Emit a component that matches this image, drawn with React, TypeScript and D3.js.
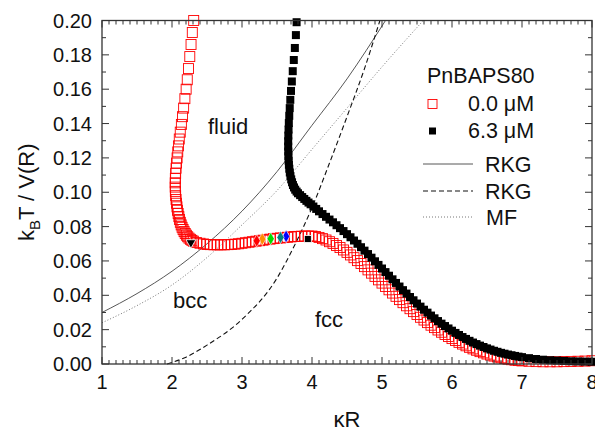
import React from 'react';
import * as d3 from 'd3';

const W = 595;
const H = 432;
const margin = { left: 102, right: 3, top: 20.5, bottom: 68 };

// PnBAPS80 0.0 uM : [kappa R, kBT / V(R)]
const series00: [number, number][] = [
  [2.31, 0.2], [2.29, 0.193], [2.272, 0.186], [2.254, 0.179], [2.236, 0.172], [2.218, 0.1655],
  [2.202, 0.16], [2.184, 0.1545], [2.166, 0.149], [2.15, 0.144], [2.134, 0.1395], [2.118, 0.135],
  [2.104, 0.131], [2.092, 0.127], [2.082, 0.1235], [2.073, 0.12], [2.065, 0.117], [2.058, 0.114],
  [2.052, 0.111], [2.048, 0.108], [2.046, 0.1055], [2.046, 0.103], [2.048, 0.1005], [2.052, 0.098],
  [2.058, 0.0958], [2.064, 0.0936], [2.071, 0.0915], [2.079, 0.0895], [2.088, 0.0876], [2.098, 0.0858],
  [2.108, 0.0841], [2.119, 0.0825], [2.131, 0.081], [2.144, 0.0796], [2.158, 0.0783], [2.173, 0.0771],
  [2.189, 0.076], [2.206, 0.075], [2.224, 0.0741], [2.243, 0.0733], [2.263, 0.0726], [2.284, 0.072],
  [2.305, 0.0715], [2.35, 0.0707], [2.4, 0.0703], [2.45, 0.0699], [2.5, 0.0696], [2.55, 0.0695],
  [2.6, 0.0694], [2.65, 0.0694], [2.7, 0.0694], [2.75, 0.0694], [2.8, 0.0695], [2.85, 0.0696],
  [2.9, 0.0698], [2.95, 0.07], [3.0, 0.0703], [3.05, 0.0706], [3.1, 0.0709], [3.15, 0.0712],
  [3.2, 0.0715], [3.25, 0.0718], [3.3, 0.0721], [3.35, 0.0724], [3.4, 0.0727], [3.45, 0.073],
  [3.5, 0.0732], [3.55, 0.0734], [3.6, 0.0736], [3.65, 0.0738], [3.7, 0.074], [3.75, 0.0742],
  [3.8, 0.0743], [3.85, 0.0744], [3.9, 0.0745], [3.95, 0.0745], [4.0, 0.0745], [4.05, 0.0742],
  [4.1, 0.0737], [4.15, 0.073], [4.2, 0.0722], [4.25, 0.0712], [4.3, 0.0702], [4.35, 0.069],
  [4.4, 0.0678], [4.45, 0.0664], [4.5, 0.065], [4.55, 0.0635], [4.6, 0.0619], [4.65, 0.0602],
  [4.7, 0.0585], [4.75, 0.0567], [4.8, 0.0548], [4.85, 0.0529], [4.9, 0.051], [4.95, 0.049],
  [5.0, 0.0471], [5.05, 0.0451], [5.1, 0.0432], [5.15, 0.0413], [5.2, 0.0394], [5.25, 0.0375],
  [5.3, 0.0357], [5.35, 0.0339], [5.4, 0.0322], [5.45, 0.0305], [5.5, 0.0288], [5.55, 0.0272],
  [5.6, 0.0256], [5.65, 0.0241], [5.7, 0.0226], [5.75, 0.0212], [5.8, 0.0198], [5.85, 0.0185],
  [5.9, 0.0172], [5.95, 0.016], [6.0, 0.0148], [6.05, 0.0137], [6.1, 0.0126], [6.15, 0.0116],
  [6.2, 0.0106], [6.25, 0.0097], [6.3, 0.0088], [6.35, 0.008], [6.4, 0.0072], [6.45, 0.0065],
  [6.5, 0.0058], [6.55, 0.0052], [6.6, 0.0046], [6.65, 0.0041], [6.7, 0.0036], [6.75, 0.0032],
  [6.8, 0.0028], [6.85, 0.0025], [6.9, 0.0022], [6.95, 0.002], [7.0, 0.0018], [7.1, 0.0016],
  [7.2, 0.0014], [7.3, 0.0013], [7.4, 0.0013], [7.5, 0.0013], [7.6, 0.0014], [7.7, 0.0015],
  [7.8, 0.0016], [7.9, 0.0017], [8.0, 0.0019],
];

// PnBAPS80 6.3 uM
const series63: [number, number][] = [
  [3.78, 0.199], [3.77, 0.1915], [3.755, 0.184], [3.74, 0.177], [3.725, 0.1705], [3.712, 0.1645],
  [3.7, 0.159], [3.69, 0.1538], [3.682, 0.149], [3.675, 0.1445], [3.669, 0.1403], [3.665, 0.1365],
  [3.662, 0.133], [3.66, 0.1297], [3.66, 0.1266], [3.661, 0.1237], [3.663, 0.121], [3.666, 0.1184],
  [3.67, 0.116], [3.676, 0.1137], [3.683, 0.1115], [3.692, 0.1094], [3.703, 0.1075], [3.715, 0.1058],
  [3.728, 0.1042], [3.743, 0.1028], [3.76, 0.1015], [3.78, 0.1004], [3.8, 0.0994], [3.83, 0.0983],
  [3.86, 0.0972], [3.89, 0.0961], [3.92, 0.095], [3.95, 0.094], [3.98, 0.093], [4.02, 0.0917],
  [4.06, 0.0903], [4.1, 0.0889], [4.15, 0.0873], [4.2, 0.0857], [4.25, 0.0841], [4.3, 0.0825],
  [4.35, 0.0808], [4.4, 0.0791], [4.45, 0.0774], [4.5, 0.0756], [4.55, 0.0738], [4.6, 0.0719],
  [4.65, 0.07], [4.7, 0.068], [4.75, 0.066], [4.8, 0.064], [4.85, 0.0619], [4.9, 0.0598],
  [4.95, 0.0577], [5.0, 0.0556], [5.05, 0.0535], [5.1, 0.0514], [5.15, 0.0493], [5.2, 0.0472],
  [5.25, 0.0451], [5.3, 0.043], [5.35, 0.041], [5.4, 0.039], [5.45, 0.0371], [5.5, 0.0352],
  [5.55, 0.0334], [5.6, 0.0316], [5.65, 0.0299], [5.7, 0.0282], [5.75, 0.0266], [5.8, 0.025],
  [5.85, 0.0235], [5.9, 0.0221], [5.95, 0.0207], [6.0, 0.0194], [6.05, 0.0181], [6.1, 0.0169],
  [6.15, 0.0157], [6.2, 0.0146], [6.25, 0.0135], [6.3, 0.0125], [6.35, 0.0116], [6.4, 0.0107],
  [6.45, 0.0099], [6.5, 0.0091], [6.55, 0.0084], [6.6, 0.0077], [6.65, 0.0071], [6.7, 0.0065],
  [6.75, 0.006], [6.8, 0.0055], [6.85, 0.0051], [6.9, 0.0047], [6.95, 0.0043], [7.0, 0.004],
  [7.1, 0.0034], [7.2, 0.0029], [7.3, 0.0025], [7.4, 0.0022], [7.5, 0.002], [7.6, 0.0018],
  [7.7, 0.0016], [7.8, 0.0015], [7.9, 0.0014], [8.0, 0.0013],
];

// theory curves
const rkgSolid: [number, number][] = [
  [1, 0.03], [1.5, 0.041], [2, 0.054], [2.5, 0.07], [3, 0.089], [3.5, 0.112], [4, 0.139], [4.5, 0.166], [5.05, 0.2],
];
const rkgDashed: [number, number][] = [
  [1.93, 0], [2.2, 0.004], [2.5, 0.011], [3, 0.026], [3.5, 0.05], [3.75, 0.069], [4, 0.091], [4.25, 0.117], [4.5, 0.144], [4.75, 0.172], [4.97, 0.2],
];
const mfDotted: [number, number][] = [
  [1, 0.024], [1.5, 0.034], [2, 0.046], [2.5, 0.062], [3, 0.081], [3.5, 0.101], [4, 0.125], [4.5, 0.149], [5, 0.173], [5.59, 0.2],
];

// single highlighted points
const triangle: [number, number] = [2.27, 0.0707];
const diamondPts: [number, number][] = [[3.29, 0.0727], [3.21, 0.0717], [3.41, 0.0729], [3.63, 0.0743], [3.55, 0.0737]];
const diamondColors = ['#ff8c00', '#ff0000', '#00dd00', '#0000ff', '#008080'];
const blackPoint: [number, number] = [3.94, 0.0728];

const xMajor = [1, 2, 3, 4, 5, 6, 7, 8];
const yMajor = [0, 0.02, 0.04, 0.06, 0.08, 0.1, 0.12, 0.14, 0.16, 0.18, 0.2];

const font = 'Liberation Sans, Arial, sans-serif';

export default function App() {
  const x = d3.scaleLinear().domain([1, 8]).range([margin.left, W - margin.right]);
  const y = d3.scaleLinear().domain([0, 0.2]).range([H - margin.bottom, margin.top]);
  const [x0, x1] = x.range();
  const [y0, y1] = y.range();

  const line = d3.line<[number, number]>().x((d) => x(d[0])).y((d) => y(d[1])).curve(d3.curveMonotoneX);
  const xMinor = x.ticks(70);
  const yMinor = y.ticks(20);
  const fmt = d3.format('.2f');
  const axisColor = '#333';

  const sq00 = 10;
  const sq63 = 8;

  return (
    <svg width={W} height={H} style={{ position: 'absolute', left: 0, top: 0, background: '#fff' }} fontFamily={font}>
      {/* theory lines */}
      <path d={line(rkgSolid) || ''} fill="none" stroke="#444" strokeWidth={0.9} />
      <path d={line(rkgDashed) || ''} fill="none" stroke="#111" strokeWidth={1.1} strokeDasharray="5,3" />
      <path d={line(mfDotted) || ''} fill="none" stroke="#777" strokeWidth={1} strokeDasharray="1,2" />

      {/* 0.0 uM open red squares */}
      {series00.map((d, i) => (
        <rect key={'r' + i} x={x(d[0]) - sq00 / 2} y={y(d[1]) - sq00 / 2} width={sq00} height={sq00}
          fill="none" stroke="#ff0000" strokeWidth={0.9} />
      ))}
      {/* 6.3 uM black squares */}
      {series63.map((d, i) => (
        <rect key={'b' + i} x={x(d[0]) - sq63 / 2} y={y(d[1]) - sq63 / 2} width={sq63} height={sq63} fill="#000" />
      ))}

      {/* highlighted points */}
      <path d={d3.symbol(d3.symbolTriangle, 42)() || ''}
        transform={`translate(${x(triangle[0])},${y(triangle[1])}) rotate(180)`} fill="#000" stroke="#fff" strokeWidth={0.8} />
      {diamondPts.map((d, i) => (
        <path key={'d' + i} d={d3.symbol(d3.symbolDiamond, 46)() || ''}
          transform={`translate(${x(d[0])},${y(d[1])})`} fill={diamondColors[i]} stroke="#fff" strokeWidth={0.6} />
      ))}
      <rect x={x(blackPoint[0]) - 3.5} y={y(blackPoint[1]) - 3.5} width={7} height={7} fill="#000" stroke="#fff" strokeWidth={0.8} />

      {/* frame */}
      <rect x={x0} y={y1} width={x1 - x0} height={y0 - y1} fill="none" stroke={axisColor} strokeWidth={1.3} />

      {/* x ticks */}
      {xMinor.map((t, i) => {
        const major = xMajor.includes(+t.toFixed(3));
        const len = major ? 7 : 4;
        return (
          <g key={'xt' + i} stroke={axisColor} strokeWidth={1}>
            <line x1={x(t)} x2={x(t)} y1={y0} y2={y0 - len} />
            <line x1={x(t)} x2={x(t)} y1={y1} y2={y1 + len} />
          </g>
        );
      })}
      {xMajor.map((t) => (
        <text key={'xl' + t} x={x(t)} y={y0 + 25} fontSize={20} textAnchor="middle" fill="#111">{t}</text>
      ))}

      {/* y ticks */}
      {yMinor.map((t, i) => {
        const major = yMajor.some((m) => Math.abs(m - t) < 1e-6);
        const len = major ? 7 : 4;
        return (
          <g key={'yt' + i} stroke={axisColor} strokeWidth={1}>
            <line x1={x0} x2={x0 + len} y1={y(t)} y2={y(t)} />
            <line x1={x1} x2={x1 - len} y1={y(t)} y2={y(t)} />
          </g>
        );
      })}
      {yMajor.map((t) => (
        <text key={'yl' + t} x={x0 - 10} y={y(t) + 7} fontSize={20} textAnchor="end" fill="#111">{fmt(t)}</text>
      ))}

      {/* axis titles */}
      <text x={(x0 + x1) / 2} y={427} fontSize={22} textAnchor="middle" fill="#111">κR</text>
      <text transform={`translate(34,${(y0 + y1) / 2}) rotate(-90)`} fontSize={22} textAnchor="middle" fill="#111">
        k<tspan fontSize={15} dy={6}>B</tspan><tspan dy={-6}>T / V(R)</tspan>
      </text>

      {/* region labels */}
      <text x={208} y={134} fontSize={22} fill="#111">fluid</text>
      <text x={173} y={308} fontSize={22} fill="#111">bcc</text>
      <text x={315} y={327} fontSize={22} fill="#111">fcc</text>

      {/* legend */}
      <g fontSize={21.5} fill="#111">
        <text x={427} y={83}>PnBAPS80</text>
        <rect x={432.5 - 4.5} y={104 - 4.5} width={9} height={9} fill="none" stroke="#ff0000" strokeWidth={0.9} />
        <text x={468} y={111}>0.0 μM</text>
        <rect x={432.5 - 3.5} y={131 - 3.5} width={7} height={7} fill="#000" />
        <text x={468} y={138}>6.3 μM</text>
        <line x1={423} x2={473} y1={164} y2={164} stroke="#444" strokeWidth={0.9} />
        <text x={485} y={172}>RKG</text>
        <line x1={423} x2={473} y1={191} y2={191} stroke="#111" strokeWidth={1.1} strokeDasharray="5,3" />
        <text x={485} y={199}>RKG</text>
        <line x1={423} x2={473} y1={217} y2={217} stroke="#777" strokeWidth={1} strokeDasharray="1,2" />
        <text x={486} y={225}>MF</text>
      </g>
    </svg>
  );
}
